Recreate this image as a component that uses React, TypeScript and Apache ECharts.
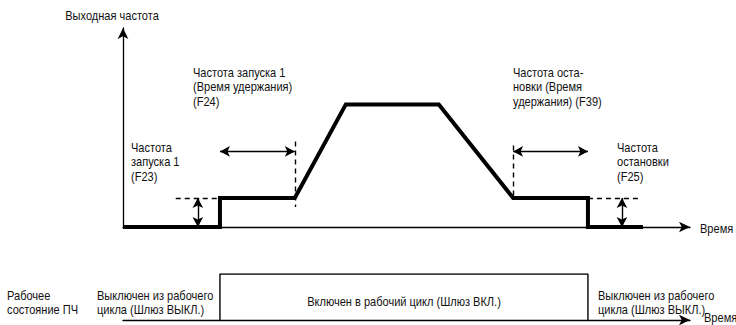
import React, { useEffect, useRef } from "react";
import * as echarts from "echarts";

// Output frequency profile (time units, frequency units)
const profileTime = [0, 17.1, 17.1, 30.3, 39.3, 55.7, 68.8, 82.0, 82.0, 91.7];
const profileFreq = [0, 0, 14.6, 14.6, 61.6, 61.6, 14.6, 14.6, 0, 0];

// Gate state (0 = off, 1 = on)
const stateTime = [17.1, 17.1, 82.0, 82.0];
const stateValue = [0, 1, 1, 0];

// Annotation marks (time, frequency)
const startHold = [17.1, 30.3];
const stopHold = [68.8, 82.0];
const holdArrowLevel = 38;
const startFreqArrowX = 13.2;
const stopFreqArrowX = 88.0;
const startFreqGuideFrom = 9.3;
const stopFreqGuideTo = 91.2;
const startFreq = 14.6;
const dashTop = 43;
const dashTopStop = 41;
const dashBottom = -21.5;
const dashShortBottom = 10;

const yName = "Выходная частота";
const xName = "Время";

const FONT = "'Liberation Sans', Arial, sans-serif";

export default function App() {
  const ref = useRef<HTMLDivElement>(null);
  useEffect(() => {
    if (!ref.current) return;
    const chart = echarts.init(ref.current, null, { renderer: "svg" });
    const black = "#000";
    const dashed = { color: black, width: 1.4, type: [5, 4] as any };
    const solid = { color: black, width: 1.4, type: "solid" };
    const pair = (a: number[], b: number[]) => a.map((v, i) => [v, b[i]]);
    const seg = (x1: number, y1: number, x2: number, y2: number, style: any, sym: any) => [
      { coord: [x1, y1], symbol: sym[0] },
      { coord: [x2, y2], symbol: sym[1], lineStyle: style },
    ];
    const text = (x: number, y: number, t: string, align = "left") => ({
      type: "text",
      x,
      y,
      scaleX: 0.85,
      style: {
        text: t,
        fill: "#111",
        font: `13px ${FONT}`,
        align,
        verticalAlign: "top",
        lineHeight: 14.5,
      },
    });
    const axisBase = {
      type: "value",
      min: 0,
      max: 100,
      axisLine: { show: true, symbol: ["none", "arrow"], symbolSize: [8, 11], lineStyle: { color: black, width: 1.3 } },
      axisTick: { show: false },
      axisLabel: { show: false },
      splitLine: { show: false },
    };

    chart.setOption({
      animation: false,
      backgroundColor: "#fff",
      grid: [
        { left: 123, right: 46, top: 28, height: 199 },
        { left: 123, right: 46, top: 274, height: 46 },
      ],
      xAxis: [
        { ...axisBase, gridIndex: 0 },
        { ...axisBase, gridIndex: 1 },
      ],
      yAxis: [
        { ...axisBase, gridIndex: 0 },
        { gridIndex: 1, type: "value", min: 0, max: 1, show: false },
      ],
      series: [
        {
          type: "line",
          xAxisIndex: 0,
          yAxisIndex: 0,
          data: pair(profileTime, profileFreq),
          symbol: "none",
          clip: false,
          lineStyle: { color: black, width: 4, join: "miter" },
          z: 5,
          markLine: {
            silent: true,
            symbolSize: [8, 10],
            label: { show: false },
            lineStyle: solid,
            data: [
              seg(startHold[0], dashTop, startHold[0], dashBottom, dashed, ["none", "none"]),
              seg(startHold[1], dashTop, startHold[1], dashShortBottom, dashed, ["none", "none"]),
              seg(stopHold[0], dashTopStop, stopHold[0], startFreq, dashed, ["none", "none"]),
              seg(stopHold[1], dashTopStop, stopHold[1], dashBottom, dashed, ["none", "none"]),
              seg(startFreqGuideFrom, startFreq, startHold[0], startFreq, dashed, ["none", "none"]),
              seg(stopHold[1], startFreq, stopFreqGuideTo, startFreq, dashed, ["none", "none"]),
              seg(startHold[0], holdArrowLevel, startHold[1], holdArrowLevel, solid, ["arrow", "arrow"]),
              seg(stopHold[0], holdArrowLevel, stopHold[1], holdArrowLevel, solid, ["arrow", "arrow"]),
              seg(startFreqArrowX, 0, startFreqArrowX, startFreq, solid, ["arrow", "arrow"]),
              seg(stopFreqArrowX, 0, stopFreqArrowX, startFreq, solid, ["arrow", "arrow"]),
            ],
          },
        },
        {
          type: "line",
          xAxisIndex: 1,
          yAxisIndex: 1,
          data: pair(stateTime, stateValue),
          symbol: "none",
          lineStyle: { color: black, width: 1.4 },
        },
      ],
      graphic: [
        text(112, 8, yName, "center"),
        text(700, 221, xName),
        text(704, 310, xName),
        text(193, 65, "Частота запуска 1\n(Время удержания)\n(F24)"),
        text(131, 140, "Частота\nзапуска 1\n(F23)"),
        text(513, 65, "Частота оста-\nновки (Время\nудержания) (F39)"),
        text(617, 140, "Частота\nостановки\n(F25)"),
        text(7, 288, "Рабочее\nсостояние ПЧ"),
        text(97, 288, "Выключен из рабочего\nцикла (Шлюз ВЫКЛ.)"),
        text(404, 294, "Включен в рабочий цикл (Шлюз ВКЛ.)", "center"),
        text(598, 288, "Выключен из рабочего\nцикла (Шлюз ВЫКЛ.)"),
      ],
    });
    return () => chart.dispose();
  }, []);
  return <div ref={ref} style={{ position: "fixed", left: 0, top: 0, width: 736, height: 325 }} />;
}
